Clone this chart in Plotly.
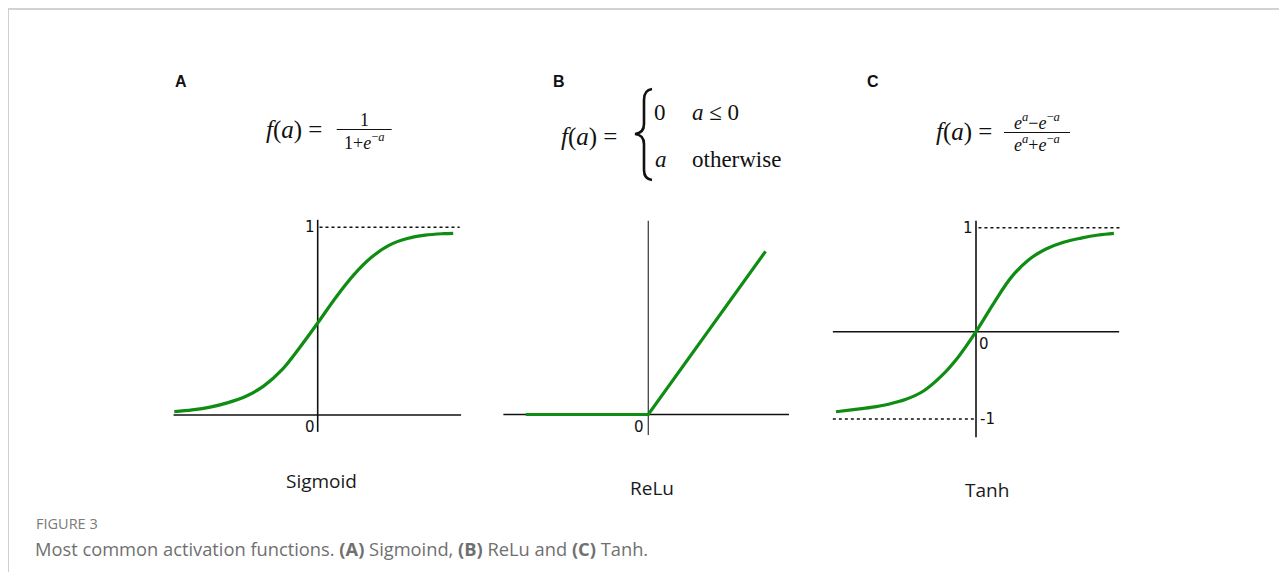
import plotly.graph_objects as go

# Page is 1287x584; the browser adds an 8px body margin, so the figure is 8px smaller
PAGE_W, PAGE_H = 1287, 584
OFF = 8
W, H = PAGE_W - OFF, PAGE_H - OFF

# ---------------- data ----------------
sig_x = [-4.0, -3.5, -3.0, -2.5, -2.0, -1.5, -1.0, -0.5, 0.0, 0.5, 1.0, 1.5, 2.0, 2.5, 3.0, 3.5, 3.78]
sig_y = [0.018, 0.027, 0.042, 0.066, 0.10, 0.155, 0.24, 0.36, 0.49, 0.625, 0.745, 0.84, 0.905, 0.94, 0.958, 0.966, 0.968]

relu_x = [-3.5, 0.0, 3.35]
relu_y = [0.0, 0.0, 3.35]

tanh_x = [-4.0, -3.5, -3.0, -2.5, -2.0, -1.5, -1.0, -0.5, 0.0, 0.5, 1.0, 1.5, 2.0, 2.5, 3.0, 3.5, 3.94]
tanh_y = [-0.77, -0.75, -0.728, -0.697, -0.65, -0.57, -0.43, -0.24, 0.0, 0.27, 0.52, 0.69, 0.795, 0.86, 0.90, 0.93, 0.946]

panel_letters = ["A", "B", "C"]
panel_names = ["Sigmoid", "ReLu", "Tanh"]
sig_ticks = ["1", "0"]
tanh_ticks = ["1", "0", "-1"]
relu_ticks = ["0"]
tanh_low_asymptote = -0.84   # where the dotted "-1" guide sits in the picture

GREEN = "#0f8c12"
SERIF = "Liberation Serif"
SANS = "DejaVu Sans"

# ---------------- geometry helpers (page px -> paper) ----------------
def PX(x):
    return (x - OFF) / W

def PY(y):
    return 1 - (y - OFF) / H

# origin (px), px per unit, box (px)
panels = [
    dict(ox=317.7, oy=415.0, sx=35.85, sy=187.7, box=(165, 470, 205, 445)),
    dict(ox=648.3, oy=414.5, sx=35.0, sy=48.7, box=(495, 800, 205, 445)),
    dict(ox=976.0, oy=331.7, sx=35.0, sy=104.0, box=(825, 1130, 205, 445)),
]

fig = go.Figure()
layout_axes = {}
for i, p in enumerate(panels, start=1):
    x0, x1, y0, y1 = p["box"]
    sfx = "" if i == 1 else str(i)
    layout_axes["xaxis" + sfx] = dict(
        domain=[PX(x0), PX(x1)],
        range=[(x0 - p["ox"]) / p["sx"], (x1 - p["ox"]) / p["sx"]],
        visible=False, fixedrange=True, anchor="y" + sfx,
    )
    layout_axes["yaxis" + sfx] = dict(
        domain=[PY(y1), PY(y0)],
        range=[(p["oy"] - y1) / p["sy"], (p["oy"] - y0) / p["sy"]],
        visible=False, fixedrange=True, anchor="x" + sfx,
    )

series = [(sig_x, sig_y, "spline"), (relu_x, relu_y, "linear"), (tanh_x, tanh_y, "spline")]
for i, (xs, ys, shp) in enumerate(series, start=1):
    sfx = "" if i == 1 else str(i)
    fig.add_trace(go.Scatter(
        x=xs, y=ys, mode="lines",
        line=dict(color=GREEN, width=3.2, shape=shp, smoothing=1.0),
        xaxis="x" + sfx, yaxis="y" + sfx, hoverinfo="skip", showlegend=False,
    ))

shapes = []

def axline(xref, yref, x0, y0, x1, y1, color="#111", width=1.6, dash="solid"):
    shapes.append(dict(type="line", xref=xref, yref=yref, x0=x0, y0=y0, x1=x1, y1=y1,
                       line=dict(color=color, width=width, dash=dash), layer="below"))

# Panel A axes
axline("x", "y", -4.02, 0, 4.0, 0)
axline("x", "y", 0, -0.09, 0, 1.04)
axline("x", "y", 0.05, 1, 3.96, 1, width=1.5, dash="dot")
# Panel B axes
axline("x2", "y2", -4.14, 0, 4.02, 0)
axline("x2", "y2", 0, -0.42, 0, 3.98, color="#444", width=1.3)
# Panel C axes
axline("x3", "y3", -4.09, 0, 4.09, 0)
axline("x3", "y3", 0, -1.015, 0, 1.067)
axline("x3", "y3", 0.07, 1, 4.11, 1, width=1.5, dash="dot")
axline("x3", "y3", -4.09, tanh_low_asymptote, -0.03, tanh_low_asymptote, width=1.5, dash="dot")

# Frame lines (page border) — at the figure's top/left edge
shapes.append(dict(type="line", xref="paper", yref="paper", x0=0, x1=1.0, y0=1 - 1.0 / H, y1=1 - 1.0 / H,
                   line=dict(color="#d2d2d2", width=2)))
shapes.append(dict(type="line", xref="paper", yref="paper", x0=0.5 / W, x1=0.5 / W, y0=1, y1=PY(572),
                   line=dict(color="#cfcfcf", width=1)))

# Fraction bars
for xa, xb, yy in [(336.7, 391.7, 129.5), (1004, 1070, 132.5)]:
    shapes.append(dict(type="line", xref="paper", yref="paper", x0=PX(xa), x1=PX(xb), y0=PY(yy), y1=PY(yy),
                       line=dict(color="#111", width=1)))

# Curly brace for the ReLU definition
pts = [("M", 652, 89), ("Q", 644, 90, 644, 100), ("L", 644, 124), ("Q", 644, 133, 635, 134),
       ("Q", 644, 135, 644, 144), ("L", 644, 170), ("Q", 644, 179, 652, 180)]
path = ""
for cmd in pts:
    c = cmd[0]
    coords = cmd[1:]
    parts = []
    for k in range(0, len(coords), 2):
        parts.append(f"{PX(coords[k]):.5f},{PY(coords[k+1]):.5f}")
    path += c + " " + " ".join(parts) + " "
shapes.append(dict(type="path", xref="paper", yref="paper", path=path.strip(),
                   line=dict(color="#111", width=2.6)))

annotations = []

def ann(px, py, text, size, family=SANS, color="#111", xanchor="center", yanchor="middle"):
    annotations.append(dict(
        x=PX(px), y=PY(py), xref="paper", yref="paper", text=text, showarrow=False,
        xanchor=xanchor, yanchor=yanchor, font=dict(family=family, size=size, color=color),
    ))

# Panel letters
for letter, lx in zip(panel_letters, [181, 559, 873]):
    ann(lx, 81, "<b>" + letter + "</b>", 16, family="Liberation Sans")

# Formulas
FEQ = "<i>f</i>(<i>a</i>)&nbsp;=&nbsp;"
ann(331, 130, FEQ, 25, family=SERIF, xanchor="right")
ann(364, 120, "1", 18, family=SERIF)
ann(364, 141, "1+<i>e</i><sup>−<i>a</i></sup>", 18, family=SERIF)

ann(626, 137, FEQ, 25, family=SERIF, xanchor="right")
ann(660, 113, "0", 23, family=SERIF, xanchor="center")
ann(690, 113, "<i>a</i> ≤ 0", 23, family=SERIF, xanchor="left")
ann(661, 160, "<i>a</i>", 23, family=SERIF, xanchor="center")
ann(690, 160, "otherwise", 23, family=SERIF, xanchor="left")

ann(1001, 132, FEQ, 25, family=SERIF, xanchor="right")
ann(1037, 121, "<i>e</i><sup><i>a</i></sup>−<i>e</i><sup>−<i>a</i></sup>", 18, family=SERIF)
ann(1037, 143, "<i>e</i><sup><i>a</i></sup>+<i>e</i><sup>−<i>a</i></sup>", 18, family=SERIF)

# Tick-like labels placed through the axes' scales
def tick(xref, yref, x, y, text, xanchor, yanchor, xshift=0, yshift=0):
    annotations.append(dict(x=x, y=y, xref=xref, yref=yref, text=text, showarrow=False,
                            xanchor=xanchor, yanchor=yanchor, xshift=xshift, yshift=yshift,
                            font=dict(family=SANS, size=15, color="#111")))

tick("x", "y", 0, 1, sig_ticks[0], "right", "middle", xshift=-1)
tick("x", "y", 0, 0, sig_ticks[1], "right", "top", xshift=-1, yshift=-1)
tick("x2", "y2", 0, 0, relu_ticks[0], "right", "top", xshift=-2, yshift=-1)
tick("x3", "y3", 0, 1, tanh_ticks[0], "right", "middle", xshift=-1)
tick("x3", "y3", 0, 0, tanh_ticks[1], "left", "top", xshift=1, yshift=-1)
tick("x3", "y3", 0, tanh_low_asymptote, tanh_ticks[2], "left", "middle", xshift=2)

# Panel names
for name, nx, ny in zip(panel_names, [321, 652, 987], [481, 488, 490]):
    ann(nx, ny, name, 19, family="Open Sans", color="#1a1a1a")

# Caption
ann(34, 523, "FIGURE 3", 14.5, family="Open Sans", color="#7a7a7a", xanchor="left")
ann(33, 548, "Most common activation functions. <b>(A)</b> Sigmoind, <b>(B)</b> ReLu and <b>(C)</b> Tanh.",
    18.3, family="Open Sans", color="#707070", xanchor="left")

fig.update_layout(
    width=W, height=H,
    margin=dict(l=0, r=0, t=0, b=0),
    paper_bgcolor="white", plot_bgcolor="white",
    showlegend=False,
    shapes=shapes, annotations=annotations,
    **layout_axes,
)

fig.write_html("out.html")
